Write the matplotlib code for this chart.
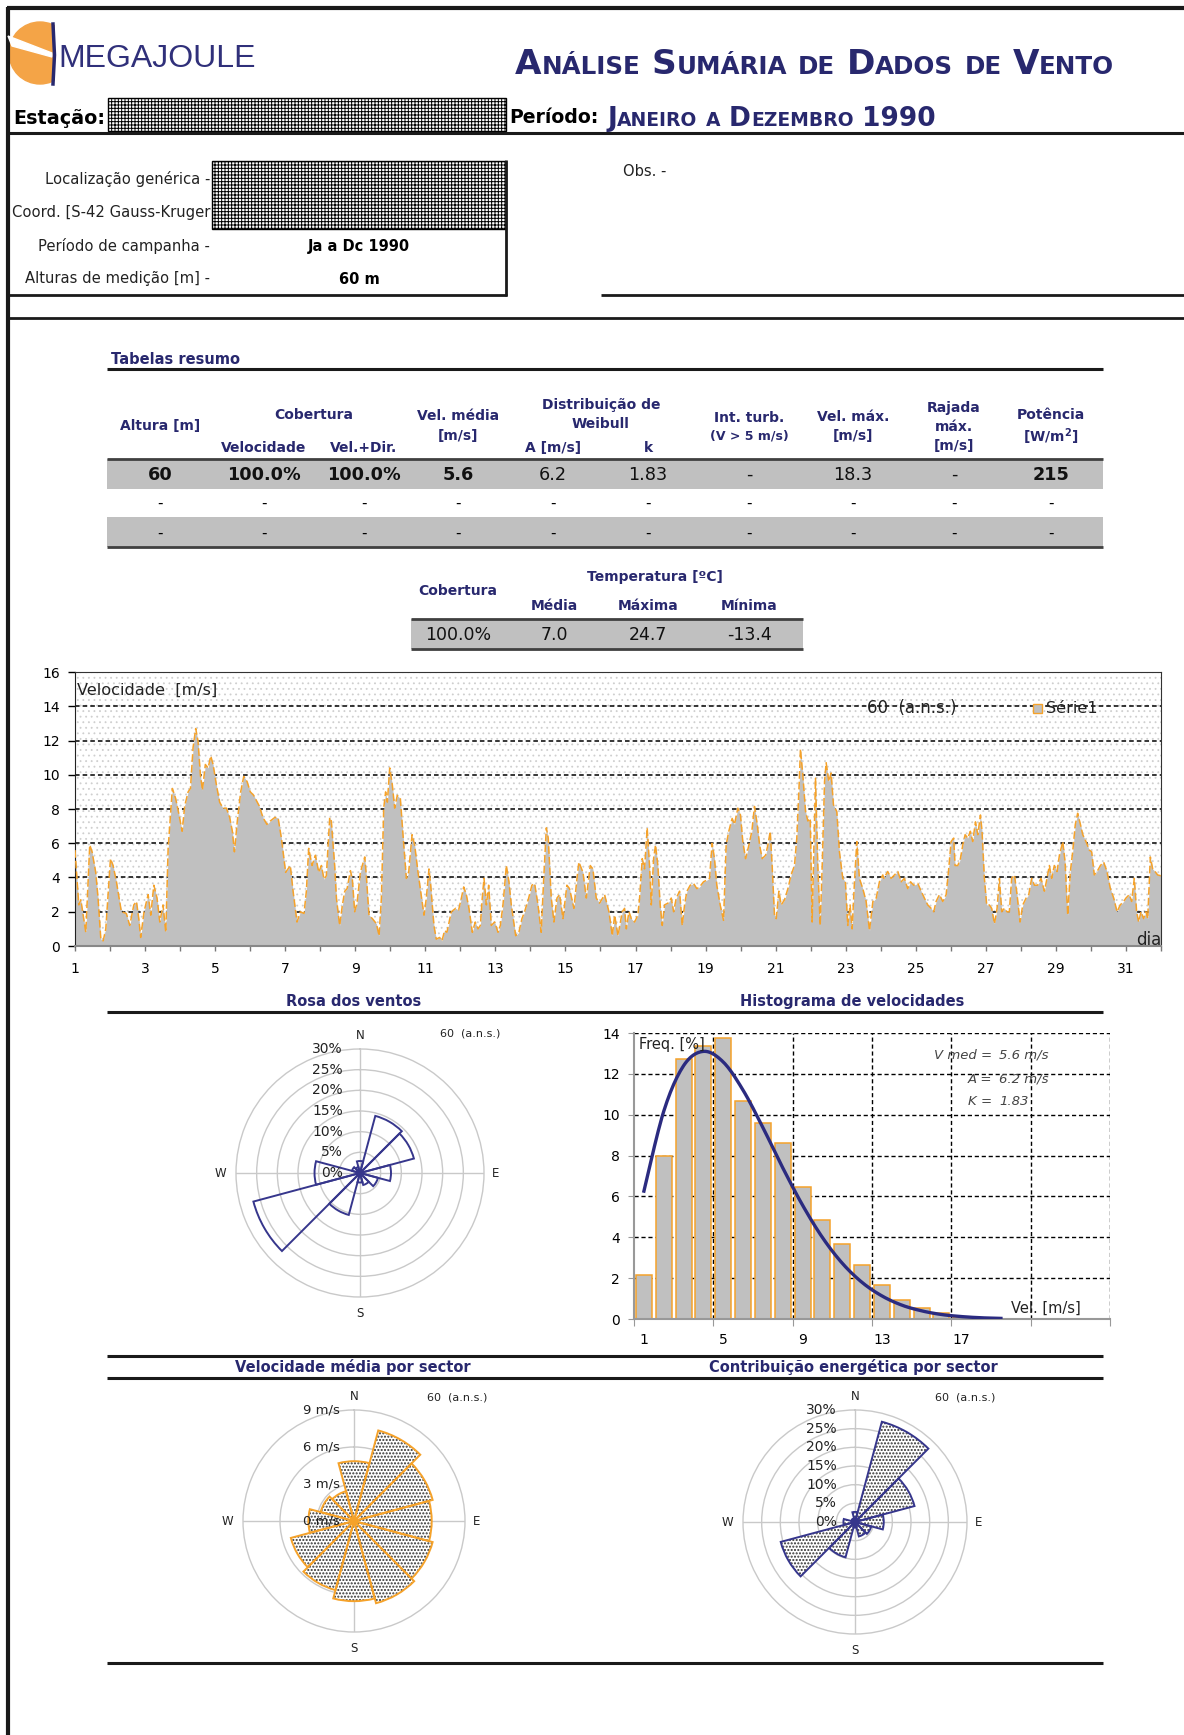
import numpy as np
import matplotlib
matplotlib.use('Agg')
import matplotlib.pyplot as plt
from matplotlib.patches import Rectangle, Circle, Polygon

# ---------------- data ----------------
# hourly wind speed readings (hour of month, m/s)
speed_readings = [
    (0, 5.6), (2.6, 2.4), (4, 2.7), (7.4, 0.8), (10.1, 5.9), (11.7, 5.5), (14.2, 4.3), (15.8, 2.8),
    (17.7, 0.4), (19.3, 0.3), (21.1, 1.0), (24.3, 5.1), (26.1, 4.7), (28.4, 3.75), (30.2, 2.8), (31.8, 2.0),
    (35.2, 1.9), (37.5, 1.2), (40.3, 2.4), (42.1, 2.6), (43.7, 1.6), (45.0, 0.5), (47.3, 2.0), (50.1, 3.0),
    (51.9, 1.8), (54.0, 3.55), (56.2, 2.8), (58.1, 1.4), (60.3, 2.4), (62.2, 0.8), (63.8, 5.7), (66.7, 9.2),
    (69.0, 8.6), (71.3, 7.65), (73.4, 6.7), (75.2, 8.2), (77.5, 9.0), (79.1, 9.2), (80.9, 11.6), (82.7, 12.7),
    (84.3, 11.95), (85.9, 10.0), (87.3, 9.1), (89.3, 10.6), (91.2, 10.4), (93.0, 11.1), (94.6, 10.6), (96.9, 9.4),
    (99.1, 8.4), (101.4, 8.05), (103.7, 8.05), (106.0, 7.5), (107.8, 6.7), (109.2, 5.5), (111.2, 7.3), (113.5, 9.0),
    (115.6, 9.9), (117.9, 9.6), (120.1, 9.0), (122.4, 8.8), (126.1, 8.2), (128.8, 7.5), (131.5, 7.1), (133.8, 7.3),
    (136.8, 7.5), (139.1, 7.5), (141.4, 6.3), (144.3, 4.3), (147.5, 4.7), (149.4, 3.2), (152.1, 1.4), (154.4, 2.0),
    (156.9, 1.9), (158.5, 3.2), (160.1, 5.7), (162.4, 4.7), (164.7, 5.3), (167.0, 4.3), (168.8, 4.7), (170.6, 3.9),
    (172.2, 4.1), (174.5, 7.5), (175.6, 7.3), (177.9, 4.7),
    (179.1, 2.8), (181.3, 1.2), (183.2, 2.4), (184.8, 3.2), (186.4, 3.35), (188.7, 4.4), (190.0, 3.9), (191.6, 2.0),
    (193.2, 2.5), (195.5, 4.3), (198.5, 5.2), (199.6, 4.1), (201.4, 1.8), (203.7, 1.6), (206.5, 1.3), (208.3, 0.6),
    (209.9, 2.8), (211.5, 8.05), (212.8, 9.0), (214.0, 8.4), (215.6, 10.4), (217.4, 9.4), (219.0, 8.05), (220.8, 8.8),
    (222.9, 8.6), (224.7, 6.5), (227.0, 3.95), (228.6, 4.3), (230.9, 6.5), (232.7, 5.9), (235.0, 4.3), (239.1, 1.8),
    (240.7, 2.8), (242.5, 4.5), (243.7, 3.55), (245.9, 1.2), (247.5, 0.4), (249.8, 0.5), (251.4, 0.3), (253.2, 0.9),
    (254.8, 0.8), (257.8, 2.0), (260.8, 2.2), (262.8, 2.1), (264.7, 2.8), (266.3, 3.45), (268.1, 3.0), (269.9, 2.2),
    (272.2, 0.8), (274.2, 1.4), (276.1, 1.0), (277.7, 1.2), (279.0, 2.8), (280.2, 3.95), (281.8, 2.4), (283.4, 3.55),
    (285.2, 1.2), (287.5, 1.4), (289.8, 0.8), (291.4, 1.2), (293.2, 2.4), (295.5, 4.7), (297.3, 3.75), (298.9, 2.4),
    (301.9, 0.6), (304.1, 0.8), (306.2, 1.6), (308.0, 2.0), (310.8, 2.8), (313.0, 3.55), (314.9, 3.65), (317.2, 2.4),
    (319.4, 0.8), (321.0, 3.75), (322.9, 6.9), (324.2, 6.3), (326.3, 2.8), (328.1, 1.4), (330.2, 2.8), (332.0, 3.0),
    (334.3, 1.6), (337.0, 3.55), (338.8, 3.35), (341.8, 2.2), (343.9, 3.95), (345.2, 4.9), (348.0, 4.3), (350.3, 2.8),
    (353.0, 4.7), (354.8, 4.5), (357.1, 2.8), (359.4, 2.5), (362.8, 3.0), (365.8, 2.0), (368.1, 0.6), (369.7, 1.8),
    (372.0, 0.6), (374.9, 2.0), (376.5, 2.2), (377.7, 1.0), (379.5, 2.0), (381.1, 1.6), (383.4, 1.4), (385.6, 1.8),
    (386.8, 2.8), (388.6, 5.1), (390.2, 4.5), (392.0, 6.9), (393.6, 4.7), (394.8, 2.4), (396.4, 5.1), (397.7, 5.9),
    (399.3, 4.7), (400.9, 2.4), (402.3, 1.2), (403.9, 2.4), (406.2, 2.5), (408.5, 2.8), (410.1, 2.0), (411.9, 2.8),
    (414.2, 3.2), (416.0, 1.2), (417.6, 2.4), (419.2, 3.2), (421.5, 3.55), (423.8, 3.65), (426.0, 3.35), (427.9, 3.45),
    (430.6, 3.75), (432.9, 3.85), (434.7, 3.95), (436.5, 6.0), (438.1, 5.1), (439.7, 3.55), (442.0, 2.4), (444.3, 1.5),
    (446.1, 5.9), (447.9, 6.7), (450.2, 7.45), (451.8, 7.1), (454.1, 8.05), (455.9, 7.65), (457.5, 6.1), (459.4, 5.1),
    (461.7, 5.9), (463.7, 6.7), (465.5, 8.15), (467.4, 7.1), (469.0, 5.9), (470.8, 5.1), (473.1, 5.3), (474.7, 5.9),
    (476.3, 6.7), (477.6, 4.7), (479.2, 1.8), (480.4, 1.6), (482.2, 3.2), (483.8, 2.4), (486.1, 2.7), (488.4, 3.35),
    (490.6, 4.15), (492.9, 4.7), (494.5, 6.3), (495.9, 9.0), (497.0, 11.5), (498.6, 10.0), (500.5, 7.85), (502.1, 7.3),
    (503.7, 7.45), (505.0, 1.4), (505.9, 4.7), (507.3, 9.8), (508.9, 4.7), (510.5, 1.2), (511.9, 4.7), (513.5, 9.6),
    (514.6, 10.7), (516.4, 9.6), (518.0, 10.1), (519.6, 8.25), (521.9, 7.85), (523.7, 5.5), (526.0, 3.95), (527.8, 3.75),
    (529.4, 1.2), (531.0, 2.4), (532.4, 1.0), (534.0, 3.75), (535.6, 6.1), (537.4, 3.95), (539.7, 3.35), (542.0, 2.6),
    (544.3, 0.9), (546.6, 2.6), (548.9, 2.8), (551.1, 3.75), (553.4, 4.15),
    (554.1, 3.95), (556.8, 4.35), (559.1, 3.95), (561.4, 4.15), (563.7, 4.35), (566.0, 3.75), (568.2, 3.95), (570.5, 3.35),
    (572.4, 3.75), (574.6, 3.55), (577.4, 3.65), (579.7, 3.2), (581.9, 2.8), (584.2, 2.4), (586.5, 2.2), (588.3, 2.0),
    (589.9, 2.6), (592.2, 3.0), (594.5, 2.6), (596.8, 3.0), (598.4, 4.35), (600.2, 6.1), (602.0, 6.3), (602.9, 4.7),
    (604.8, 4.7), (606.6, 5.1), (608.2, 5.9), (609.8, 6.5), (611.6, 6.3), (613.4, 6.7), (615.0, 6.1), (616.9, 7.25),
    (618.5, 6.5), (620.3, 7.65), (621.4, 6.7), (623.0, 3.95), (624.6, 2.4), (626.4, 2.4), (628.0, 2.2), (629.9, 1.3),
    (631.7, 2.2), (633.3, 3.95), (634.9, 2.0), (636.7, 2.2), (638.5, 2.0), (640.1, 2.0), (641.7, 3.95), (643.6, 4.15),
    (645.4, 3.0), (647.4, 1.4), (649.3, 2.4), (651.6, 2.8), (653.4, 3.0), (655.4, 3.95), (657.3, 3.55), (659.5, 3.55),
    (661.8, 3.95), (664.1, 3.2), (665.9, 3.95), (667.5, 4.7), (669.1, 3.95), (670.9, 4.7), (672.8, 4.35), (674.4, 5.3),
    (676.7, 6.1), (678.3, 4.9), (680.1, 1.8), (681.9, 4.35), (683.5, 5.5), (685.3, 7.1), (686.9, 7.75), (688.8, 7.1),
    (690.4, 6.5), (692.6, 6.1), (694.9, 5.6), (696.5, 5.5), (698.3, 4.15), (700.2, 4.35), (702.5, 4.7), (704.7, 4.9),
    (707.0, 4.35), (709.3, 3.35), (711.6, 2.8), (713.9, 2.0), (716.1, 2.4), (718.4, 2.6), (720.0, 2.8), (722.3, 3.0),
    (723.9, 2.6), (725.7, 3.95), (727.3, 2.0), (728.7, 1.4), (730.3, 2.0), (732.1, 1.6), (733.7, 2.0), (734.9, 1.6),
    (736.7, 5.2), (738.3, 4.5), (739.9, 4.35), (741.7, 4.15), (744.0, 4.1),
]
day_labels = list(range(1, 32, 2))

hist_bins = list(range(1, 18))
hist_freq = [2.17, 7.99, 12.72, 13.38, 13.76, 10.68, 9.60, 8.62, 6.46, 4.84,
             3.69, 2.64, 1.65, 0.92, 0.54, 0.30, 0.08]
weib_v = list(range(1, 20))
weib_pdf = [6.26, 10.17, 12.40, 13.10, 12.58, 11.20, 9.37, 7.40, 5.57, 3.99,
            2.73, 1.79, 1.13, 0.68, 0.40, 0.22, 0.12, 0.06, 0.03]

sector_dirs = [0, 30, 60, 90, 120, 150, 180, 210, 240, 270, 300, 330]
rose_freq = [2.9, 14.3, 13.5, 7.5, 4.5, 3.0, 2.3, 10.5, 26.7, 11.0, 2.0, 1.5]
rose_speed = [4.85, 7.6, 6.6, 6.3, 6.6, 6.9, 6.5, 5.8, 5.3, 3.7, 2.8, 2.5]
rose_energy = [2.7, 27.8, 16.5, 7.7, 4.5, 4.0, 1.5, 9.8, 20.6, 3.1, 1.0, 1.0]

summary_header_values = ['60', '100.0%', '100.0%', '5.6', '6.2', '1.83', '-', '18.3', '-', '215']
summary_bold = [True, True, True, True, False, False, False, False, False, True]
temp_values = ['100.0%', '7.0', '24.7', '-13.4']

# ---------------- figure ----------------
W, H = 1184, 1735
plt.rcParams['font.family'] = ['DejaVu Sans']
fig = plt.figure(figsize=(W / 100, H / 100), dpi=100)
renderer = fig.canvas.get_renderer()

base = fig.add_axes([0, 0, 1, 1], zorder=10)
base.set_xlim(0, W)
base.set_ylim(H, 0)
base.axis('off')

NAVY = '#28286e'
ORANGE = '#f5a22a'
GRAY = '#c0c0c0'


def px_axes(l, t, r, b, **kw):
    return fig.add_axes([l / W, 1 - b / H, (r - l) / W, (b - t) / H], **kw)


def hline(y, x0, x1, lw=2.0, color='#1a1a1a'):
    base.plot([x0, x1], [y, y], color=color, lw=lw, solid_capstyle='butt')


def vline(x, y0, y1, lw=2.0, color='#1a1a1a'):
    base.plot([x, x], [y0, y1], color=color, lw=lw, solid_capstyle='butt')


def smallcaps(x, y, text, big, small, **kw):
    words = text.split(' ')
    for wi, word in enumerate(words):
        if wi > 0:
            x += big * 0.33 * 100 / 72
        i = 0
        while i < len(word):
            is_big = not word[i].islower()
            j = i
            while j < len(word) and (not word[j].islower()) == is_big:
                j += 1
            seg = word[i:j]
            t = base.text(x, y, seg.upper(), fontsize=big if is_big else small,
                          va='baseline', ha='left', **kw)
            x += t.get_window_extent(renderer).width
            i = j
    return x


# ---- frame ----
hline(8, 7, W, lw=3)
vline(8, 7, H, lw=3)

# ---- logo ----
logo_circle = Circle((40, 53), 31, color='#f4a447', zorder=1)
base.add_patch(logo_circle)
clip = Rectangle((0, 0), 55, 120, transform=base.transData)
logo_circle.set_clip_path(clip)
base.add_patch(Polygon([(8, 36), (12, 46), (52, 57), (52, 53)], closed=True, color='white', zorder=2))
base.plot([53, 54.5, 53], [24, 55, 84], color=NAVY, lw=2.5, zorder=3)
base.text(58, 67, 'MEGAJOULE', fontsize=23, color='#30307a', family='Liberation Sans', va='baseline')

# ---- title ----
smallcaps(515, 74, 'Análise Sumária de Dados de Vento', 24.7, 17.7, color=NAVY, fontweight='bold')

# ---- station line ----
base.text(13, 124, 'Estação:', fontsize=13.8, fontweight='bold', va='baseline')
plt.rcParams['hatch.linewidth'] = 0.7
base.add_patch(Rectangle((108, 98), 398, 33, facecolor='white', edgecolor='black',
                         hatch='+++++', lw=1))
base.text(509, 123, 'Período:', fontsize=13.6, fontweight='bold', va='baseline')
smallcaps(607, 126, 'Janeiro a Dezembro 1990', 19, 13.5, color=NAVY, fontweight='bold')
hline(133, 8, W, lw=2.2)

# ---- info box ----
base.add_patch(Rectangle((212, 161), 294, 68, facecolor='white', edgecolor='black',
                         hatch='+++++', lw=1))
info_labels = ['Localização genérica -', 'Coord. [S-42 Gauss-Kruger', 'Período de campanha -',
               'Alturas de medição [m] -']
info_y = [179, 212, 246, 279]
for lab_, yy in zip(info_labels, info_y):
    base.text(210, yy, lab_, fontsize=10.6, ha='right', va='center', color='#222222')
base.text(359, 246, 'Ja a Dc 1990', fontsize=10.5, fontweight='bold', ha='center', va='center')
base.text(359, 279, '60 m', fontsize=10.5, fontweight='bold', ha='center', va='center')
vline(506, 160, 296, lw=2)
hline(295, 8, 507, lw=2)
base.text(623, 172, 'Obs. -', fontsize=10.5, va='center', color='#222222')
hline(295, 601, W, lw=2)
hline(318, 8, W, lw=2)

# ---- summary table ----
base.text(111, 359, 'Tabelas resumo', fontsize=10.5, fontweight='bold', color=NAVY, va='center')
hline(369, 107, 1103, lw=2.2)
col_x = [160, 264, 364, 458, 553, 648, 749, 853, 954, 1051]
hdr = dict(fontsize=10, fontweight='bold', color=NAVY, ha='center', va='center')
base.text(col_x[0], 426, 'Altura [m]', **hdr)
base.text(314, 415, 'Cobertura', **hdr)
base.text(col_x[1], 448, 'Velocidade', **hdr)
base.text(col_x[2], 448, 'Vel.+Dir.', **hdr)
base.text(col_x[3], 416, 'Vel. média', **hdr)
base.text(col_x[3], 436, '[m/s]', **hdr)
base.text(601, 405, 'Distribuição de', **hdr)
base.text(601, 424, 'Weibull', **hdr)
base.text(col_x[4], 448, 'A [m/s]', **hdr)
base.text(col_x[5], 448, 'k', **hdr)
base.text(col_x[6], 418, 'Int. turb.', **hdr)
base.text(col_x[6], 436, '(V > 5 m/s)', **dict(hdr, fontsize=9))
base.text(col_x[7], 417, 'Vel. máx.', **hdr)
base.text(col_x[7], 436, '[m/s]', **hdr)
base.text(col_x[8], 408, 'Rajada', **hdr)
base.text(col_x[8], 427, 'máx.', **hdr)
base.text(col_x[8], 446, '[m/s]', **hdr)
base.text(col_x[9], 415, 'Potência', **hdr)
base.text(col_x[9], 437, r'[W/m$^\mathbf{2}$]', **hdr)

base.add_patch(Rectangle((107, 459), 996, 30, facecolor=GRAY, lw=0, zorder=0))
base.add_patch(Rectangle((107, 517), 996, 30, facecolor=GRAY, lw=0, zorder=0))
hline(459, 107, 1103, lw=2, color='#404040')
hline(547, 107, 1103, lw=2, color='#404040')
for cx, val, b in zip(col_x, summary_header_values, summary_bold):
    base.text(cx, 475, val, fontsize=12.7, fontweight='bold' if b else 'normal',
              ha='center', va='center', color='#111111')
    base.text(cx, 503, '-', fontsize=11, ha='center', va='center')
    base.text(cx, 533, '-', fontsize=11, ha='center', va='center')

# ---- temperature table ----
base.text(655, 577, 'Temperatura [ºC]', **hdr)
base.text(458, 591, 'Cobertura', **hdr)
temp_x = [458, 554, 648, 749]
for cx, lab_ in zip(temp_x[1:], ['Média', 'Máxima', 'Mínima']):
    base.text(cx, 606, lab_, **hdr)
base.add_patch(Rectangle((411, 619), 392, 30, facecolor=GRAY, lw=0, zorder=0))
hline(619, 411, 803, lw=2, color='#404040')
hline(649, 411, 803, lw=2, color='#404040')
for cx, val in zip(temp_x, temp_values):
    base.text(cx, 635, val, fontsize=12.5, ha='center', va='center', color='#111111')

# ---- time series ----
ts_h = np.array([p[0] for p in speed_readings])
ts_v = np.array([p[1] for p in speed_readings])
ts_day = 1 + ts_h / 24.0

plt.rcParams['hatch.linewidth'] = 0.6
ax = px_axes(75, 672, 1161, 946)
ax.set_xlim(1, 32)
ax.set_ylim(0, 16)
ax.add_patch(Rectangle((0, 0), 1, 1, transform=ax.transAxes, facecolor='white',
                       edgecolor='#cfcfcf', hatch='...', lw=0, zorder=0))
for yv in range(2, 16, 2):
    ax.axhline(yv, color='black', lw=1.1, ls=(0, (3, 2)), zorder=1)
ax.fill_between(ts_day, ts_v, 0, color=GRAY, lw=0, zorder=2)
ax.plot(ts_day, ts_v, color=ORANGE, lw=1.1, ls=(0, (5, 2)), zorder=3)
ax.set_yticks(range(0, 17, 2))
ax.set_xticks(range(1, 33))
ax.set_xticklabels([str(d) if d in day_labels else '' for d in range(1, 33)])
ax.tick_params(axis='y', length=5, width=1, pad=6, labelsize=10)
ax.tick_params(axis='x', length=3.5, width=1, pad=8, labelsize=10, color='#777777')
for s in ['top', 'right']:
    ax.spines[s].set_color('#333333')
ax.spines['left'].set_color('#222222')
ax.spines['bottom'].set_color('#888888')
ax.spines['bottom'].set_linewidth(1.5)

base.text(77, 690, 'Velocidade  [m/s]', fontsize=11.6, va='center', color='#222222')
base.text(867, 708, '60  (a.n.s.)', fontsize=12, va='center', color='#222222')
base.add_patch(Rectangle((1033, 704), 9, 9, facecolor=GRAY, edgecolor=ORANGE, lw=1))
base.text(1046, 708, 'Série1', fontsize=11.6, va='center', color='#222222')
base.text(1161, 940, 'dia', fontsize=12, ha='right', va='center', color='#222222')

# ---- section titles ----
ttl = dict(fontsize=10.5, fontweight='bold', color=NAVY, ha='center', va='center')
base.text(354, 1001, 'Rosa dos ventos', **ttl)
base.text(852, 1001, 'Histograma de velocidades', **ttl)
hline(1012, 107, 1103, lw=2.2)
hline(1356, 107, 1103, lw=2.2)
base.text(353, 1367, 'Velocidade média por sector', **ttl)
base.text(853, 1367, 'Contribuição energética por sector', **ttl)
hline(1378, 107, 1103, lw=2.2)
hline(1663, 107, 1103, lw=2.2)


# ---- polar roses ----
def make_rose(cx, cy, R, rmax, rings):
    axp = fig.add_axes([(cx - R) / W, 1 - (cy + R) / H, 2 * R / W, 2 * R / H],
                       projection='polar', zorder=2)
    axp.set_theta_zero_location('N')
    axp.set_theta_direction(-1)
    axp.set_ylim(0, rmax)
    axp.set_yticks(rings)
    axp.set_yticklabels([])
    axp.set_xticks(np.deg2rad([0, 90, 180, 270]))
    axp.set_xticklabels([])
    axp.grid(True, color='#c9c9c9', lw=1.0)
    axp.spines['polar'].set_color('#c9c9c9')
    axp.spines['polar'].set_linewidth(1.0)
    axp.patch.set_alpha(0)
    return axp


th = np.deg2rad(sector_dirs)
wd = np.deg2rad(30)
lab = dict(fontsize=8.5, ha='center', va='center', color='#222222')

# wind rose
cx, cy, R = 360, 1173, 124
a1 = make_rose(cx, cy, R, 30, [5, 10, 15, 20, 25])
a1.bar(th, rose_freq, width=wd, bottom=0, fill=False, edgecolor='#36368c', lw=1.4, zorder=3)
for r in range(0, 31, 5):
    base.text(cx - 17, cy - R * r / 30, f'{r}%', fontsize=10, ha='right', va='center', color='#222222')
base.text(cx, cy - R - 14, 'N', **lab)
base.text(cx, cy + R + 16, 'S', **lab)
base.text(cx - R - 16, cy, 'W', **lab)
base.text(cx + R + 12, cy, 'E', **lab)
base.text(470, 1033, '60  (a.n.s.)', **dict(lab, fontsize=8))

# histogram
ah = px_axes(634, 1033, 1110, 1319)
ah.set_xlim(0.5, 24.5)
ah.set_ylim(0, 14)
for yv in range(2, 15, 2):
    ah.axhline(yv, color='black', lw=1.0, ls=(0, (3, 2)), zorder=1)
for xv in [4.5, 8.5, 12.5, 16.5, 20.5, 24.5]:
    ah.axvline(xv, color='black', lw=1.0, ls=(0, (3, 2)), zorder=1)
ah.bar(hist_bins, hist_freq, width=0.8, color=GRAY, edgecolor=ORANGE, lw=1.1, zorder=2)


def catmull(xs, ys, n=12):
    P = np.column_stack([np.asarray(xs, float), np.asarray(ys, float)])
    out = []
    for i in range(len(P) - 1):
        p0 = P[max(i - 1, 0)]
        p1 = P[i]
        p2 = P[i + 1]
        p3 = P[min(i + 2, len(P) - 1)]
        for t in np.linspace(0, 1, n, endpoint=False):
            t2, t3 = t * t, t * t * t
            pt = 0.5 * ((2 * p1) + (-p0 + p2) * t + (2 * p0 - 5 * p1 + 4 * p2 - p3) * t2
                        + (-p0 + 3 * p1 - 3 * p2 + p3) * t3)
            out.append(pt)
    out.append(P[-1])
    out = np.array(out)
    return out[:, 0], out[:, 1]


cxs, cys = catmull(weib_v, weib_pdf)
ah.plot(cxs, cys, color='#2b2b80', lw=2.4, zorder=4)
ah.set_yticks(range(0, 15, 2))
ah.set_xticks([0.5, 4.5, 8.5, 12.5, 16.5, 20.5, 24.5])
ah.set_xticklabels([])
ah.set_xticks([1, 5, 9, 13, 17], minor=True)
ah.set_xticklabels(['1', '5', '9', '13', '17'], minor=True)
ah.tick_params(axis='x', which='minor', length=0, pad=10, labelsize=10)
ah.tick_params(axis='x', which='major', length=5, color='#999999')
ah.tick_params(axis='y', length=4, pad=6, labelsize=10, color='#999999')
ah.spines['top'].set_visible(False)
ah.spines['right'].set_visible(False)
ah.spines['left'].set_color('#999999')
ah.spines['bottom'].set_color('#999999')
ah.spines['left'].set_linewidth(1.5)
ah.spines['bottom'].set_linewidth(1.5)
base.text(639, 1044, 'Freq. [%]', fontsize=10.5, va='center', color='#222222')
base.text(1011, 1308, 'Vel. [m/s]', fontsize=10.5, va='center', color='#222222')
it = dict(fontsize=9.5, style='italic', va='center', color='#444444')
base.text(992, 1055, 'V med =', ha='right', **it)
base.text(999, 1055, '5.6 m/s', ha='left', **it)
base.text(992, 1079, 'A =', ha='right', **it)
base.text(999, 1079, '6.2 m/s', ha='left', **it)
base.text(992, 1101, 'K =', ha='right', **it)
base.text(999, 1101, '1.83', ha='left', **it)

# mean speed rose
plt.rcParams['hatch.linewidth'] = 1.0
cx, cy, R = 354, 1521, 111
a2 = make_rose(cx, cy, R, 9, [3, 6])
a2.bar(th, rose_speed, width=wd, bottom=0, facecolor='white', edgecolor='#303030',
       hatch='.....', lw=0, zorder=3)
a2.bar(th, rose_speed, width=wd, bottom=0, fill=False, edgecolor=ORANGE, lw=1.4, zorder=4)
for r in range(0, 10, 3):
    base.text(cx - 14, cy - R * r / 9, f'{r} m/s', fontsize=9.5, ha='right', va='center', color='#222222')
base.text(cx, cy - R - 14, 'N', **lab)
base.text(cx, cy + R + 16, 'S', **lab)
base.text(cx - R - 16, cy, 'W', **lab)
base.text(cx + R + 12, cy, 'E', **lab)
base.text(457, 1397, '60  (a.n.s.)', **dict(lab, fontsize=8))

# energy rose
cx, cy, R = 855, 1522, 112
a3 = make_rose(cx, cy, R, 30, [5, 10, 15, 20, 25])
a3.bar(th, rose_energy, width=wd, bottom=0, facecolor='white', edgecolor='#303030',
       hatch='.....', lw=0, zorder=3)
a3.bar(th, rose_energy, width=wd, bottom=0, fill=False, edgecolor='#36368c', lw=1.4, zorder=4)
for r in range(0, 31, 5):
    base.text(cx - 18, cy - R * r / 30, f'{r}%', fontsize=10, ha='right', va='center', color='#222222')
base.text(cx, cy - R - 14, 'N', **lab)
base.text(cx, cy + R + 16, 'S', **lab)
base.text(cx - R - 16, cy, 'W', **lab)
base.text(cx + R + 12, cy, 'E', **lab)
base.text(965, 1397, '60  (a.n.s.)', **dict(lab, fontsize=8))

fig.savefig('out.png', dpi=100)
